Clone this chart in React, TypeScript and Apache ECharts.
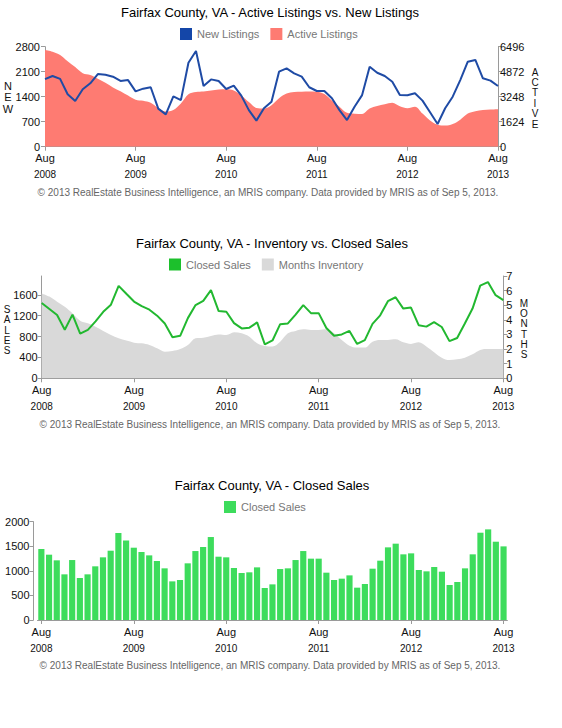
import React, { useEffect, useRef } from "react";
import * as echarts from "echarts";

const months: string[] = [];
for (let y = 2008; y <= 2013; y++) {
  for (let m = 1; m <= 12; m++) {
    if ((y === 2008 && m < 8) || (y === 2013 && m > 8)) continue;
    months.push(`${y}-${String(m).padStart(2, "0")}`);
  }
}

const newListings = [
  1890, 1980, 1900, 1470, 1280, 1610, 1775, 2035, 2015, 1960, 1840, 1865,
  1550, 1625, 1665, 1065, 905, 1410, 1305, 2350, 2680, 1700, 1885, 1840,
  1615, 1710, 1430, 1025, 730, 1075, 1260, 2100, 2195, 2055, 1960, 1665,
  1560, 1560, 1355, 1025, 745, 1120, 1445, 2240, 2070, 1980, 1820, 1445,
  1440, 1495, 1290, 965, 635, 1075, 1400, 1865, 2380, 2430, 1915, 1850, 1700,
];

const activeListings = [
  6280, 6170, 5960, 5550, 5170, 4770, 4660, 4420, 4150, 3850, 3600, 3320,
  3050, 2980, 2850, 2500, 2280, 2380, 2800, 3400, 3550, 3580, 3650, 3720,
  3730, 3650, 3330, 2900, 2520, 2480, 2700, 3150, 3450, 3560, 3570, 3580,
  3570, 3420, 3000, 2600, 2200, 2140, 2130, 2480, 2650, 2750, 2850, 2620,
  2500, 2600, 2150, 1700, 1420, 1370, 1470, 1750, 2150, 2300, 2380, 2420, 2440,
];

const closedSales = [
  1444, 1329, 1214, 929, 1220, 854, 929, 1092, 1275, 1410, 1770, 1620,
  1471, 1383, 1315, 1200, 1051, 786, 814, 1153, 1403, 1485, 1688, 1288,
  1275, 1058, 956, 970, 1071, 651, 725, 1037, 1051, 1220, 1403, 1248,
  1248, 963, 814, 841, 908, 658, 732, 1044, 1207, 1478, 1553, 1336,
  1356, 1017, 990, 1078, 983, 712, 773, 1051, 1336, 1776, 1844, 1593, 1498,
];

const monthsInventory = [
  5.81, 5.59, 5.24, 4.9, 4.45, 3.94, 3.76, 3.53, 3.24, 2.96, 2.74, 2.58,
  2.44, 2.39, 2.28, 2.05, 1.82, 1.87, 2.0, 2.28, 2.74, 2.78, 2.9, 3.0,
  2.96, 3.15, 3.08, 2.85, 2.39, 2.21, 2.17, 2.5, 3.08, 3.24, 3.35, 3.31,
  3.31, 3.35, 3.08, 2.62, 2.23, 2.1, 2.1, 2.5, 2.62, 2.62, 2.67, 2.46,
  2.35, 2.46, 2.17, 1.78, 1.41, 1.25, 1.3, 1.41, 1.64, 1.94, 2.0, 2.0, 2.0,
];

const titles = [
  "Fairfax County, VA - Active Listings vs. New Listings",
  "Fairfax County, VA - Inventory vs. Closed Sales",
  "Fairfax County, VA - Closed Sales",
];
const footnote =
  "© 2013 RealEstate Business Intelligence, an MRIS company. Data provided by MRIS as of Sep 5, 2013.";

const FONT = "'Liberation Sans', Arial, sans-serif";
const AXIS = "#9a9a9a";
const BLUE = "#1f4ba5";
const SALMON = "#fe7b72";
const GREEN_LINE = "#22b830";
const GRAY = "#d9d9d9";
const BAR = "#3ddc5c";

const showYear = (i: number) => i % 12 === 0;

function xAxis(gridIndex: number, boundaryGap: boolean) {
  return {
    type: "category",
    gridIndex,
    data: months,
    boundaryGap,
    axisLine: { show: true, lineStyle: { color: AXIS, width: 1 } },
    axisTick: {
      show: true,
      interval: (i: number) => showYear(i),
      alignWithLabel: true,
      length: 4,
      lineStyle: { color: AXIS },
    },
    axisLabel: {
      interval: (i: number) => showYear(i),
      margin: 6,
      formatter: (v: string) => `{a|Aug}\n{b|${v.slice(0, 4)}}`,
      rich: {
        a: { fontSize: 11, lineHeight: 11, color: "#111", fontFamily: FONT },
        b: { fontSize: 10, lineHeight: 22, color: "#111", fontFamily: FONT },
      },
    },
    splitLine: { show: false },
  };
}

function yAxis(
  gridIndex: number,
  position: string,
  max: number,
  interval: number,
  margin: number,
  extra: any = {}
) {
  return {
    type: "value",
    gridIndex,
    position,
    min: 0,
    max,
    interval,
    axisLine: { show: true, lineStyle: { color: AXIS, width: 1 } },
    axisTick: { show: true, length: 4, lineStyle: { color: AXIS } },
    axisLabel: {
      fontSize: 11,
      lineHeight: 11,
      color: "#111",
      fontFamily: FONT,
      margin,
      formatter: (v: number) => String(v),
      ...(extra.axisLabel || {}),
    },
    splitLine: { show: false },
    ...(extra.rest || {}),
  };
}

function legend(top: number, left: number, items: { name: string; color: string }[]) {
  return {
    top,
    left,
    padding: 0,
    icon: "rect",
    itemWidth: 12,
    itemHeight: 12,
    itemGap: 11,
    selectedMode: false,
    textStyle: { color: "#777", fontSize: 11, fontFamily: FONT },
    data: items.map((d) => ({ name: d.name, itemStyle: { color: d.color } })),
  };
}

function txt(x: number, y: number, text: string, fontSize: number, color: string) {
  return {
    type: "text",
    x,
    y,
    silent: true,
    style: {
      text,
      fontSize,
      fontWeight: "normal",
      fontFamily: FONT,
      fill: color,
      align: "center",
      verticalAlign: "middle",
      lineHeight: fontSize,
    },
  };
}

// vertical axis name: one text per letter, centred on (x, cy)
function vertical(x: number, cy: number, word: string, step: number, fontSize: number) {
  const letters = word.split("");
  const start = cy - ((letters.length - 1) * step) / 2;
  return letters.map((ch, i) => txt(x, start + i * step, ch, fontSize, "#111"));
}

export default function App() {
  const ref = useRef<HTMLDivElement>(null);
  useEffect(() => {
    if (!ref.current) return;
    const chart = echarts.init(ref.current, undefined, { renderer: "svg" });
    const option: any = {
      animation: false,
      backgroundColor: "#fff",
      textStyle: { fontFamily: FONT },
      grid: [
        { left: 45, top: 46.7, width: 453, height: 100 },
        { left: 41.7, top: 276, width: 461.6, height: 102.3 },
        { left: 37.5, top: 521.7, width: 469.9, height: 98.3 },
      ],
      xAxis: [xAxis(0, false), xAxis(1, false), xAxis(2, true)],
      yAxis: [
        yAxis(0, "left", 2800, 700, 5),
        yAxis(0, "right", 6496, 1624, 2),
        yAxis(1, "left", 1960, 400, 4, { axisLabel: { showMaxLabel: false } }),
        yAxis(1, "right", 7, 1, 3),
        yAxis(2, "left", 2000, 500, 4, { rest: { offset: 4 } }),
      ],
      legend: [
        legend(28, 180, [
          { name: "New Listings", color: "#1446a8" },
          { name: "Active Listings", color: SALMON },
        ]),
        legend(258.5, 169, [
          { name: "Closed Sales", color: "#1cc02c" },
          { name: "Months Inventory", color: GRAY },
        ]),
        legend(501, 224, [{ name: "Closed Sales", color: BAR }]),
      ],
      series: [
        {
          name: "Active Listings",
          type: "line",
          xAxisIndex: 0,
          yAxisIndex: 1,
          data: activeListings,
          smooth: 0.35,
          symbol: "none",
          lineStyle: { width: 0, color: SALMON },
          itemStyle: { color: SALMON },
          areaStyle: { color: SALMON, opacity: 1 },
          z: 1,
        },
        {
          name: "New Listings",
          type: "line",
          xAxisIndex: 0,
          yAxisIndex: 0,
          data: newListings,
          symbol: "none",
          lineStyle: { width: 2, color: BLUE },
          itemStyle: { color: BLUE },
          z: 3,
        },
        {
          name: "Months Inventory",
          type: "line",
          xAxisIndex: 1,
          yAxisIndex: 3,
          data: monthsInventory,
          smooth: 0.35,
          symbol: "none",
          lineStyle: { width: 0, color: GRAY },
          itemStyle: { color: GRAY },
          areaStyle: { color: GRAY, opacity: 1 },
          z: 1,
        },
        {
          name: "Closed Sales",
          type: "line",
          xAxisIndex: 1,
          yAxisIndex: 2,
          data: closedSales,
          symbol: "none",
          lineStyle: { width: 2, color: GREEN_LINE },
          itemStyle: { color: GREEN_LINE },
          z: 3,
        },
        {
          name: "Closed Sales",
          type: "bar",
          xAxisIndex: 2,
          yAxisIndex: 4,
          data: closedSales,
          barCategoryGap: "20%",
          itemStyle: { color: BAR },
        },
      ],
      graphic: [
        txt(270, 12, titles[0], 13, "#000"),
        txt(272, 243, titles[1], 13, "#000"),
        txt(272, 485, titles[2], 13, "#000"),
        txt(268, 192.7, footnote, 10, "#666"),
        txt(270, 424, footnote, 10, "#666"),
        txt(270, 665.7, footnote, 10, "#666"),
        ...vertical(8, 97, "NEW", 11.5, 11),
        ...vertical(535, 98, "ACTIVE", 10.4, 10),
        ...vertical(7, 330, "SALES", 10.2, 10),
        ...vertical(524, 329, "MONTHS", 10.3, 10),
      ],
    };
    chart.setOption(option);
    return () => chart.dispose();
  }, []);
  return (
    <div
      ref={ref}
      style={{ position: "absolute", left: 0, top: 0, width: 562, height: 728 }}
    />
  );
}
